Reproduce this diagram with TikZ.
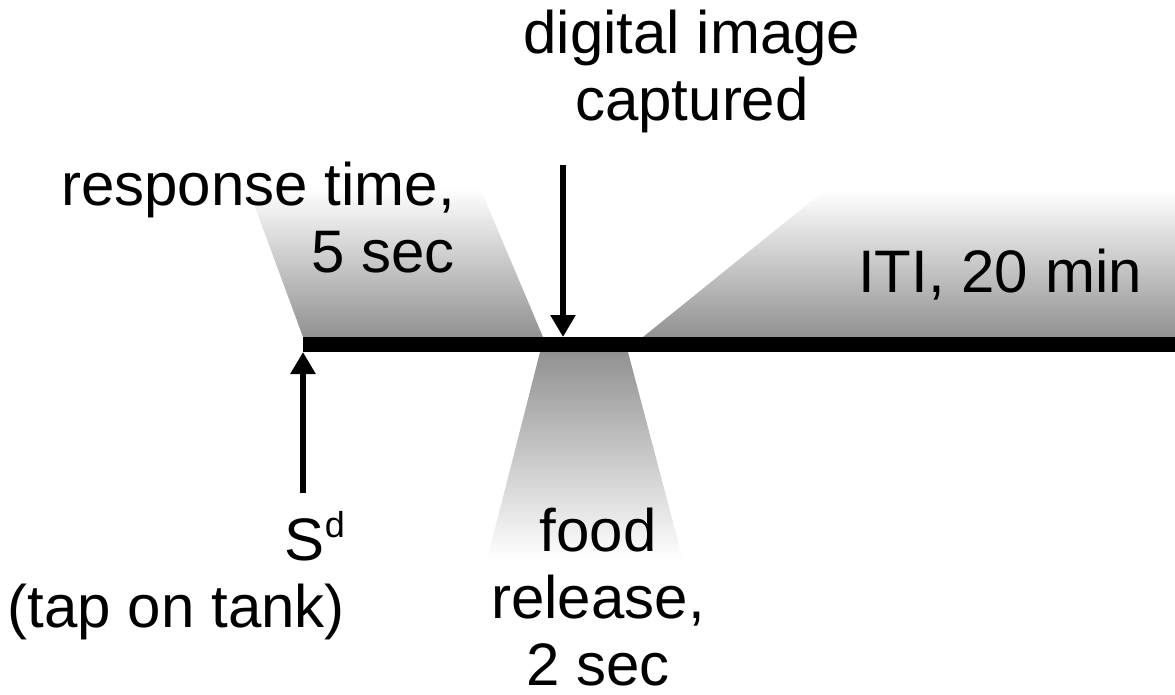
\documentclass[tikz,border=0pt]{standalone}
\usepackage{fontspec}
\setmainfont{Liberation Sans}
\usetikzlibrary{arrows.meta}
\definecolor{shadegray}{gray}{0.57}
\newcommand{\supd}{\raisebox{23pt}{\fontsize{36}{36}\selectfont d}}
\begin{document}
\begin{tikzpicture}[x=1pt,y=-1pt,
  lbl/.style={inner sep=0pt, font=\fontsize{60}{67}\selectfont},
  axis/.style={line width=15pt},
  evt/.style={line width=6.5pt, -{Triangle[width=24pt,length=22pt]}}]
\useasboundingbox (0,0) rectangle (1175,694);

% shaded interval bands
\shade[top color=white, bottom color=shadegray]
  (303,337) -- (543,337) -- (480,188) -- (248,188) -- cycle;
\shade[top color=shadegray, bottom color=white]
  (540,352) -- (628,352) -- (683,560) -- (487,560) -- cycle;
\shade[top color=white, bottom color=shadegray]
  (643,337) -- (1175,337) -- (1175,190) -- (825,190) -- cycle;

% time axis
\coordinate (t0) at (303,344);
\coordinate (t1) at (1175,344);
\draw[axis] (t0) -- (t1);

% event arrows
\coordinate (camtop) at (563,165);
\coordinate (camtip) at (563,337);
\draw[evt] (camtop) -- (camtip);
\coordinate (tapbot) at (303,493);
\coordinate (taptip) at (303,352);
\draw[evt] (tapbot) -- (taptip);

% labels (base anchor sits on the last line)
\node[lbl, anchor=base, align=center] (cam) at (692,120) {digital image\\captured};
\node[lbl, anchor=base east, align=right] (resp) at (455,272) {response time,\\5 sec};
\node[lbl, anchor=base] (iti) at (1000,292) {ITI, 20 min};
\node[lbl, anchor=base, align=center] (food) at (598,685) {food\\release,\\2 sec};
\node[lbl, anchor=base east, align=right] (tap) at (345,627) {S\supd\\(tap on tank)};
\end{tikzpicture}
\end{document}
